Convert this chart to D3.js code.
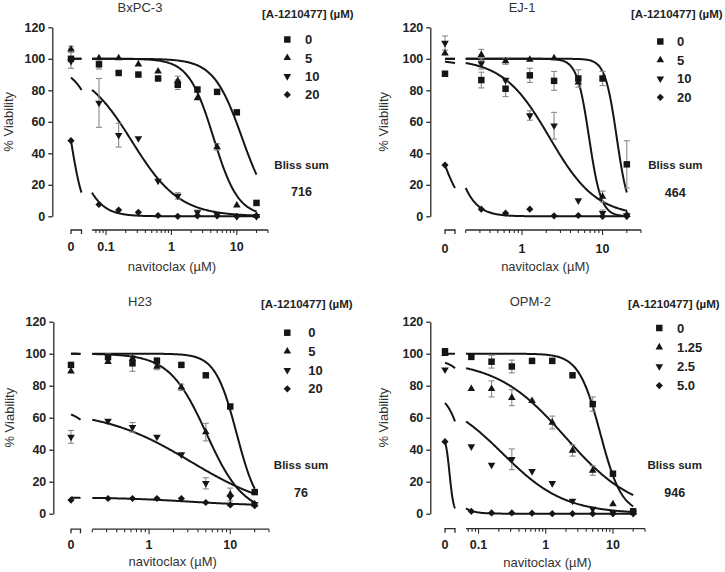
<!DOCTYPE html>
<html><head><meta charset="utf-8">
<script src="https://cdn.jsdelivr.net/npm/d3@7"></script>
<style>body{margin:0;background:#fff} svg{display:block}</style>
</head><body><svg id="chart" width="725" height="572"></svg>
<script>
// ---------------- DATA ----------------
const panelTitles = ["BxPC-3", "EJ-1", "H23", "OPM-2"];
const legendTitle = "[A-1210477] (\u00b5M)";
const legendLabels = [["0","5","10","20"], ["0","5","10","20"], ["0","5","10","20"], ["0","1.25","2.5","5.0"]];
const blissSums = ["716", "464", "76", "946"];
const yTickValues = [0, 20, 40, 60, 80, 100, 120];
const xTickLabelsWide = ["0", "0.1", "1", "10"];
const xTickLabelsNarrow = ["0", "1", "10"];
const doseFull = [0, 0.078, 0.156, 0.3125, 0.625, 1.25, 2.5, 5, 10, 20];
const doseShort = [0, 0.3125, 0.625, 1.25, 2.5, 5, 10, 20];

// BxPC-3
const bxpcValues = [
  [100, 96.5, 91, 90, 87.5, 83.5, 80.5, 79, 66, 8.5],
  [106, 100.5, 100.5, 96.5, 92, 86, 75, 44, 7, 0.5],
  [98.5, 72, 51.5, 49.5, 22.5, 13, 2.5, 1, 0, 0],
  [48, 7.5, 4, 2.5, 0.5, 0, 0.3, 0.3, 0, 0]
];
const bxpcErrors = [
  [6, 3, 0, 0, 0, 3, 0, 0, 0, 0],
  [2, 0, 0, 0, 0, 3, 0, 2, 0, 0],
  [0, 15.5, 7.5, 0, 0, 2, 1.5, 0, 0, 0],
  [0, 0, 0, 0, 0, 0, 0, 0, 0, 0]
];
// fits: [top, bottom, IC50, Hill]
const bxpcFits = [[100, 0, 12, 2], [100, 0, 4.4, 2.3], [95, 0, 0.25, 1.2], [100, 0, 0.029, 2.33]];
const bxpcZeroSegment = [0.03, 0.061];
const bxpcLogSegment = [0.061, 30];

// EJ-1
const ej1Values = [
  [90.5, 86.5, 81, 89.5, 86, 87.5, 87.5, 33],
  [103.5, 102.5, 98.5, 99.5, 100.5, 85, 12.5, 1],
  [110, 97, 86.5, 64, 57.5, 10, 2, 0.5],
  [32.5, 4.5, 2, 4.5, 0.3, 0.5, 0, 0]
];
const ej1Errors = [
  [1.5, 5, 5, 4.5, 6, 5.5, 4.5, 15],
  [0, 3.5, 2, 0, 0, 0, 3.5, 0],
  [4.5, 3.5, 0, 3, 8.5, 0, 2, 0],
  [0, 0, 0, 0, 0, 0, 0, 0]
];
const ej1Fits = [[100, 0, 15, 6], [100, 0, 6.8, 5.8], [100, 0, 2.2, 1.5], [100, 0, 0.124, 3.18]];
const ej1ZeroSegment = [0.156, 0.2];
const ej1LogSegment = [0.2, 30];

// H23
const h23Values = [
  [93, 98, 94, 95.5, 93, 86.5, 67, 13.5],
  [89, 95, 97, 92, 79, 51, 12, 6],
  [48, 58, 54, 48, 37, 19, 10.5, 6],
  [8.5, 9.5, 9.5, 9.5, 9.5, 7, 5.5, 5]
];
const h23Errors = [
  [0, 2, 5, 2, 0, 0, 0, 0],
  [0, 0, 0, 2, 2, 5.5, 4, 0],
  [4, 0, 3, 0, 0, 3.5, 0, 0],
  [0, 0, 0, 0, 0, 0, 0, 0]
];
const h23Fits = [[100, 0, 12, 3.3], [100, 0, 5.1, 1.9], [65, 0, 3.27, 0.8], [10.2, 5, 3, 1]];
const h23ZeroSegment = [0.074, 0.2];
const h23LogSegment = [0.2, 30];

// OPM-2
const opmValues = [
  [101.5, 98, 95, 92, 95.5, 95.5, 86.5, 68.5, 25, 1.5],
  [100, 78, 78, 72.5, 70.5, 57, 39.5, 27, 6, 1],
  [90, 42, 30.5, 34, 26.5, 19, 8, 3, 0.5, 0.5],
  [45, 1.5, 0.5, 0.5, 0.3, 0, 0, 0, 0, 0]
];
const opmErrors = [
  [1.5, 0, 4, 4, 0, 0, 0, 4.5, 0, 0],
  [0, 0, 5, 5, 0, 4, 3.5, 3, 0, 0],
  [0, 0, 0, 6.5, 0, 0, 0, 0, 0, 0],
  [0, 0, 0, 0, 0, 0, 0, 0, 0, 0]
];
const opmFits = [[100, 0, 6.5, 2.7], [96, 0, 1.95, 0.85], [75, 0, 0.23, 0.95], [50, 0, 0.0313, 3.6]];
const opmZeroSegment = [0.017, 0.065];
const opmLogSegment = [0.065, 30];

// ---------------- LAYOUT ----------------
const FONT = "'Liberation Sans', Arial, Helvetica, sans-serif";
const svg = d3.select("#chart");

const panels = [
  {title: panelTitles[0], doses: doseFull, values: bxpcValues, errors: bxpcErrors, fits: bxpcFits,
   segA: bxpcZeroSegment, segB: bxpcLogSegment, legend: legendLabels[0], bliss: blissSums[0],
   tickLabels: xTickLabelsWide,
   L: {yAxisX: 52.3, yTop: 27.3, yBot: 216.3, xAxisY: 230, xA: [71, 81.5], xB: [92, 268],
       xLabY: 251, xTitleY: 271, titleX: 140, titleY: 12, yTitleX: 8,
       legTitleX: 262, legTitleY: 17.5, legMarkX: 287.3, legLabelX: 305, legY0: 39.5, legDy: 18.4,
       blissLabelX: 301.5, blissLabelY: 164.3, blissValY: 191.8}},
  {title: panelTitles[1], doses: doseShort, values: ej1Values, errors: ej1Errors, fits: ej1Fits,
   segA: ej1ZeroSegment, segB: ej1LogSegment, legend: legendLabels[1], bliss: blissSums[1],
   tickLabels: xTickLabelsNarrow,
   L: {yAxisX: 430.3, yTop: 27.3, yBot: 216.3, xAxisY: 230, xA: [445, 455], xB: [465.7, 641],
       xLabY: 252.5, xTitleY: 271, titleX: 522, titleY: 11.5, yTitleX: 383.3,
       legTitleX: 631, legTitleY: 17.5, legMarkX: 660.3, legLabelX: 677, legY0: 41.5, legDy: 18.6,
       blissLabelX: 675.3, blissLabelY: 164.3, blissValY: 192.3}},
  {title: panelTitles[2], doses: doseShort, values: h23Values, errors: h23Errors, fits: h23Fits,
   segA: h23ZeroSegment, segB: h23LogSegment, legend: legendLabels[2], bliss: blissSums[2],
   tickLabels: xTickLabelsNarrow,
   L: {yAxisX: 53.3, yTop: 321.7, yBot: 513.7, xAxisY: 529.2, xA: [71, 80.5], xB: [92.3, 269],
       xLabY: 548.8, xTitleY: 566, titleX: 140, titleY: 306, yTitleX: 9,
       legTitleX: 261, legTitleY: 307.5, legMarkX: 287.3, legLabelX: 308.3, legY0: 332.7, legDy: 18.7,
       blissLabelX: 301, blissLabelY: 465, blissValY: 492}},
  {title: panelTitles[3], doses: doseFull, values: opmValues, errors: opmErrors, fits: opmFits,
   segA: opmZeroSegment, segB: opmLogSegment, legend: legendLabels[3], bliss: blissSums[3],
   tickLabels: xTickLabelsWide,
   L: {yAxisX: 430.3, yTop: 321.7, yBot: 513.7, xAxisY: 528.7, xA: [445, 455], xB: [466, 645],
       xLabY: 548.8, xTitleY: 566.5, titleX: 530.3, titleY: 306, yTitleX: 383,
       legTitleX: 628, legTitleY: 307.5, legMarkX: 659.3, legLabelX: 677, legY0: 328, legDy: 19.2,
       blissLabelX: 674.7, blissLabelY: 465, blissValY: 492}}
];

function fitValue(f, d) {
  const [top, bottom, ic, h] = f;
  return bottom + (top - bottom) / (1 + Math.pow(d / ic, h));
}

const symbolDefs = [
  {type: d3.symbolSquare, size: 42, rot: 0},
  {type: d3.symbolTriangle, size: 25, rot: 0},
  {type: d3.symbolTriangle, size: 25, rot: 180},
  {type: d3.symbolSquare, size: 26, rot: 45}
];
const INK = "#151515";
const AXIS = "#2a2a2a";
const ERR = "#8a8a8a";

function drawPanel(p) {
  const L = p.L;
  const g = svg.append("g");
  const y = d3.scaleLinear().domain([0, 120]).range([L.yBot, L.yTop]);
  const xA = d3.scaleLog().domain(p.segA).range(L.xA);
  const xB = d3.scaleLog().domain(p.segB).range(L.xB);
  const xPos = d => d === 0 ? xA(p.segA[0]) : xB(d);

  // Y axis
  const yAx = g.append("g").attr("transform", `translate(${L.yAxisX},0)`)
    .call(d3.axisLeft(y).tickValues(yTickValues).tickSize(4).tickSizeOuter(0).tickPadding(3));
  yAx.select(".domain").attr("stroke", AXIS).attr("stroke-width", 1.3);
  yAx.selectAll(".tick line").attr("stroke", AXIS).attr("stroke-width", 1.3);
  yAx.selectAll(".tick text").attr("font-family", FONT).attr("font-size", 12.5)
    .attr("font-weight", "bold").attr("fill", "#222");

  // X axis: zero segment bracket
  const xg = g.append("g");
  const a0 = xA.range()[0], a1 = xA.range()[1];
  xg.append("path").attr("d", `M${a0},${L.xAxisY + 4}V${L.xAxisY}H${a1}V${L.xAxisY + 4}`)
    .attr("fill", "none").attr("stroke", AXIS).attr("stroke-width", 1.3);
  // log segment
  const b0 = xB.range()[0], b1 = xB.range()[1];
  xg.append("line").attr("x1", b0).attr("x2", b1).attr("y1", L.xAxisY).attr("y2", L.xAxisY)
    .attr("stroke", AXIS).attr("stroke-width", 1.3);
  const [lo, hi] = p.segB;
  const tickVals = [];
  for (let k = Math.floor(Math.log10(lo)); k <= Math.ceil(Math.log10(hi)); k++) {
    for (let m = 1; m <= 9; m++) {
      const v = m * Math.pow(10, k);
      if (v >= lo * 0.999 && v <= hi * 1.001) tickVals.push({v, major: m === 1});
    }
  }
  xg.selectAll("line.tk").data(tickVals).join("line").attr("class", "tk")
    .attr("x1", d => xB(d.v)).attr("x2", d => xB(d.v))
    .attr("y1", L.xAxisY).attr("y2", d => L.xAxisY + (d.major ? 5 : 3))
    .attr("stroke", AXIS).attr("stroke-width", 1.1);
  // tick labels
  const labVals = p.tickLabels.map(t => +t);
  xg.selectAll("text.tl").data(p.tickLabels).join("text").attr("class", "tl")
    .attr("x", (t, i) => xPos(labVals[i])).attr("y", L.xLabY)
    .attr("text-anchor", "middle").attr("font-family", FONT).attr("font-size", 12.5)
    .attr("font-weight", "bold").attr("fill", "#222").text(t => t);

  // titles
  g.append("text").attr("x", L.titleX).attr("y", L.titleY).attr("text-anchor", "middle")
    .attr("font-family", FONT).attr("font-size", 13).attr("fill", "#333").text(p.title);
  g.append("text").attr("transform", `translate(${L.yTitleX + 4.5},${(L.yTop + L.yBot) / 2}) rotate(-90)`)
    .attr("text-anchor", "middle").attr("font-family", FONT).attr("font-size", 13)
    .attr("fill", "#333").text("% Viability");
  g.append("text").attr("x", (b0 + b1) / 2 - 8).attr("y", L.xTitleY).attr("text-anchor", "middle")
    .attr("font-family", FONT).attr("font-size", 13).attr("fill", "#333").text("navitoclax (\u00b5M)");

  // fitted curves
  const line = d3.line().x(d => d[0]).y(d => d[1]);
  const maxDose = d3.max(p.doses);
  p.fits.forEach(f => {
    const ptsA = d3.range(0, 41).map(i => {
      const d = Math.exp(Math.log(p.segA[0]) + (Math.log(p.segA[1]) - Math.log(p.segA[0])) * i / 40);
      return [xA(d), y(fitValue(f, d))];
    });
    const ptsB = d3.range(0, 201).map(i => {
      const d = Math.exp(Math.log(p.segB[0]) + (Math.log(maxDose) - Math.log(p.segB[0])) * i / 200);
      return [xB(d), y(fitValue(f, d))];
    });
    g.append("path").attr("d", line(ptsA)).attr("fill", "none").attr("stroke", INK).attr("stroke-width", 2);
    g.append("path").attr("d", line(ptsB)).attr("fill", "none").attr("stroke", INK).attr("stroke-width", 2);
  });

  // error bars
  p.values.forEach((vals, s) => {
    vals.forEach((v, i) => {
      const e = p.errors[s][i];
      if (!e) return;
      const cx = xPos(p.doses[i]);
      const eg = g.append("g").attr("stroke", ERR).attr("stroke-width", 1.1);
      eg.append("line").attr("x1", cx).attr("x2", cx).attr("y1", y(v - e)).attr("y2", y(v + e));
      eg.append("line").attr("x1", cx - 3).attr("x2", cx + 3).attr("y1", y(v - e)).attr("y2", y(v - e));
      eg.append("line").attr("x1", cx - 3).attr("x2", cx + 3).attr("y1", y(v + e)).attr("y2", y(v + e));
    });
  });

  // markers
  p.values.forEach((vals, s) => {
    const sd = symbolDefs[s];
    const sym = d3.symbol().type(sd.type).size(sd.size);
    g.selectAll(null).data(vals).join("path")
      .attr("d", sym)
      .attr("transform", (v, i) => `translate(${xPos(p.doses[i])},${y(v)}) rotate(${sd.rot})`)
      .attr("fill", INK);
  });

  // legend
  g.append("text").attr("x", L.legTitleX).attr("y", L.legTitleY).attr("font-family", FONT)
    .attr("font-size", 11.5).attr("font-weight", "bold").attr("fill", "#222").text(legendTitle);
  p.legend.forEach((lab, i) => {
    const ly = L.legY0 + i * L.legDy;
    const sd = symbolDefs[i];
    g.append("path").attr("d", d3.symbol().type(sd.type).size(sd.size)())
      .attr("transform", `translate(${L.legMarkX},${ly}) rotate(${sd.rot})`).attr("fill", INK);
    g.append("text").attr("x", L.legLabelX).attr("y", ly + 4.6).attr("font-family", FONT)
      .attr("font-size", 13).attr("font-weight", "bold").attr("fill", "#222").text(lab);
  });

  // Bliss sum
  g.append("text").attr("x", L.blissLabelX).attr("y", L.blissLabelY + 4.2).attr("text-anchor", "middle")
    .attr("font-family", FONT).attr("font-size", 11.5).attr("font-weight", "bold").attr("fill", "#222")
    .text("Bliss sum");
  g.append("text").attr("x", L.blissLabelX).attr("y", L.blissValY + 4.5).attr("text-anchor", "middle")
    .attr("font-family", FONT).attr("font-size", 12.5).attr("font-weight", "bold").attr("fill", "#222")
    .text(p.bliss);
}

panels.forEach(drawPanel);
</script></body></html>
